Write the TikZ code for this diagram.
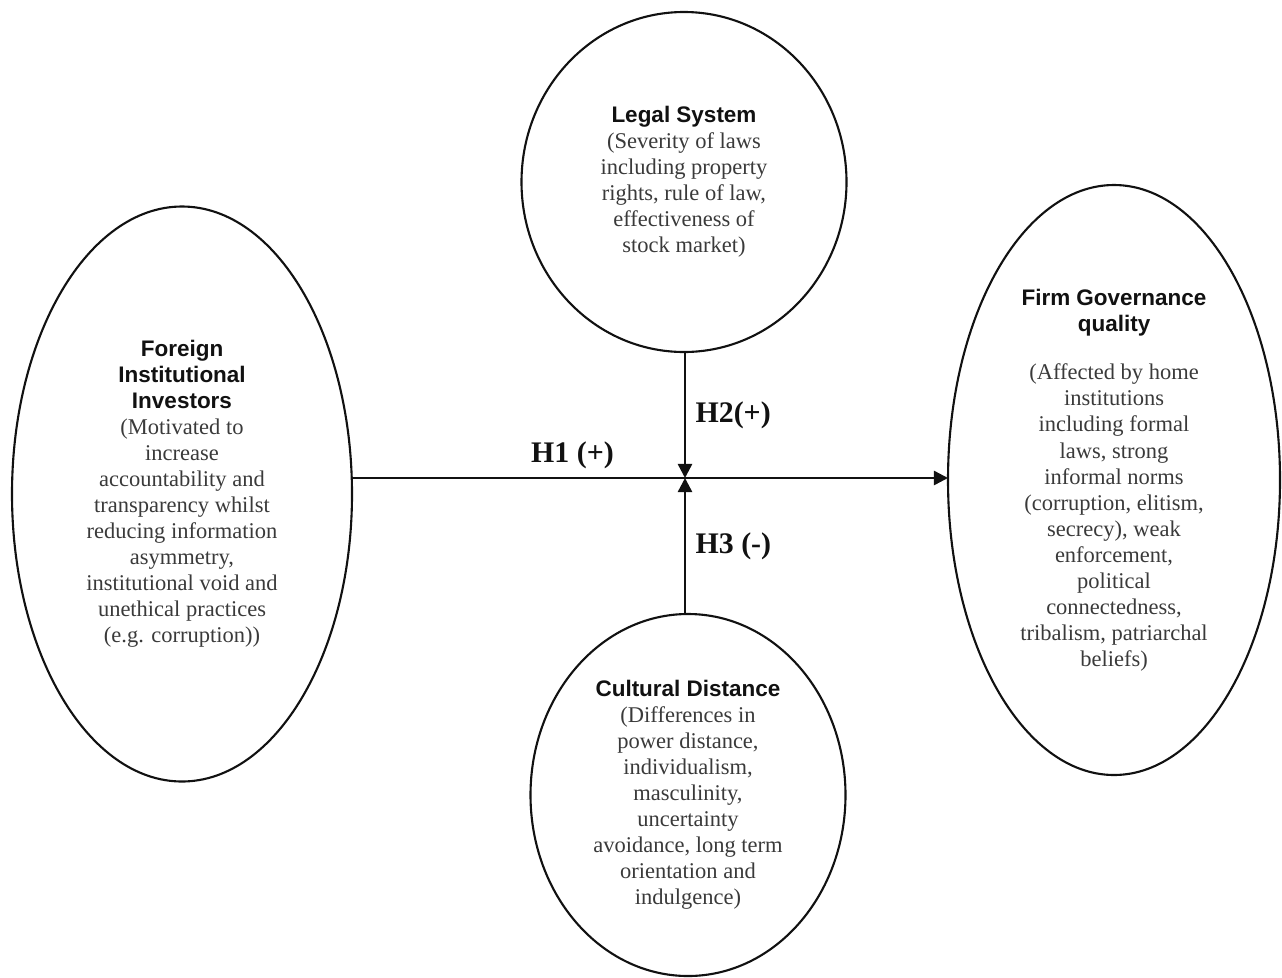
\documentclass[tikz,border=0pt]{standalone}
\usepackage{fontspec}
\setmainfont{Liberation Serif}
\setsansfont{Liberation Sans}
\usetikzlibrary{shapes.geometric, arrows.meta, positioning, calc}
\definecolor{inkblack}{HTML}{111111}
\definecolor{bodygray}{HTML}{3A3A3A}
\tikzset{
  arr/.style={-{Triangle[length=8pt, width=8pt]}, line width=1.4pt, inkblack},
  construct/.style={ellipse, draw=inkblack, line width=1.2pt, align=center, inner sep=0pt, outer sep=0pt, text=bodygray, font=\fontsize{12.8}{14.8}\selectfont},
  hyp/.style={font=\fontsize{17}{20}\selectfont\bfseries, text=inkblack},
}
\newcommand{\ctitle}[1]{{\sffamily\bfseries\color{inkblack}#1}}

\begin{document}
\begin{tikzpicture}
  \useasboundingbox (0,0) rectangle (25.64,-19.54);

  % Constructs
  \node[construct, minimum width=6.8cm, minimum height=11.5cm] (fii) at (3.64,-9.88) {\ctitle{Foreign}\\\ctitle{Institutional}\\\ctitle{Investors}\\(Motivated to\\increase\\accountability and\\transparency whilst\\reducing information\\asymmetry,\\institutional void and\\unethical practices\\(e.g. corruption))};
  \node[construct, minimum width=6.5cm, minimum height=6.8cm] (legal) at (13.68,-3.64) {\ctitle{Legal System}\\(Severity of laws\\including property\\rights, rule of law,\\effectiveness of\\stock market)};
  \node[construct, minimum width=6.3cm, minimum height=7.24cm] (culture) at (13.76,-15.9) {\ctitle{Cultural Distance}\\(Differences in\\power distance,\\individualism,\\masculinity,\\uncertainty\\avoidance, long term\\orientation and\\indulgence)};
  \node[construct, minimum width=6.64cm, minimum height=11.8cm] (fgq) at (22.28,-9.6) {\ctitle{Firm Governance}\\\ctitle{quality}\\[0.45cm](Affected by home\\institutions\\including formal\\laws, strong\\informal norms\\(corruption, elitism,\\secrecy), weak\\enforcement,\\political\\connectedness,\\tribalism, patriarchal\\beliefs)};

  \coordinate (hub) at (13.7,-9.56);

  % Hypotheses
  \draw[arr] (fii.east |- hub) -- (fgq.west |- hub) node[hyp, pos=0.37, above=1pt] {H1 (+)};
  \draw[arr] (legal.south -| hub) -- (hub) node[hyp, midway, right=2pt] {H2(+)};
  \draw[arr] (culture.north -| hub) -- (hub) node[hyp, midway, right=2pt] {H3 (-)};
\end{tikzpicture}
\end{document}
